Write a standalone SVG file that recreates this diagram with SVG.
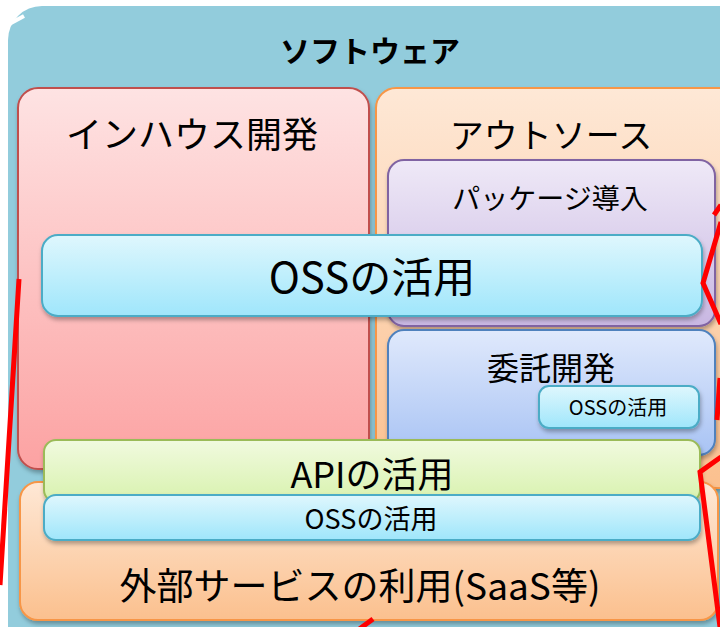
<svg xmlns="http://www.w3.org/2000/svg" width="720" height="627" viewBox="0 0 720 627">
<defs>
<style>
text{font-family:"Noto Sans CJK JP","Noto Sans",sans-serif;fill:#000;text-anchor:middle}
.box{stroke-width:2;filter:url(#sh)}
.red{stroke:#FF0000;stroke-width:5;fill:none;stroke-linejoin:miter}
</style>
<filter id="sh" x="-10%" y="-10%" width="120%" height="130%">
<feDropShadow dx="1" dy="3" stdDeviation="2" flood-color="#000" flood-opacity="0.3"/>
</filter>
<linearGradient id="gPink" x1="0" y1="0" x2="0" y2="1"><stop offset="0" stop-color="#FEE3E3"/><stop offset="1" stop-color="#FCA2A2"/></linearGradient>
<linearGradient id="gOrange" x1="0" y1="0" x2="0" y2="1"><stop offset="0" stop-color="#FEE8D6"/><stop offset="1" stop-color="#FBC08E"/></linearGradient>
<linearGradient id="gPurple" x1="0" y1="0" x2="0" y2="1"><stop offset="0" stop-color="#EFE9F7"/><stop offset="1" stop-color="#C8B7E2"/></linearGradient>
<linearGradient id="gBlue" x1="0" y1="0" x2="0" y2="1"><stop offset="0" stop-color="#E0E9FC"/><stop offset="1" stop-color="#A8C3F4"/></linearGradient>
<linearGradient id="gCyan" x1="0" y1="0" x2="0" y2="1"><stop offset="0" stop-color="#DFF7FD"/><stop offset="1" stop-color="#9FE6FB"/></linearGradient>
<linearGradient id="gGreen" x1="0" y1="0" x2="0" y2="1"><stop offset="0" stop-color="#F1FADF"/><stop offset="1" stop-color="#D8F2AE"/></linearGradient>
</defs>
<rect width="720" height="627" fill="#FFFFFF"/>
<g id="software">
<rect x="8" y="6" width="760" height="660" rx="34" fill="#92CCDC"/>
<text x="370" y="62" font-size="30" font-weight="bold">ソフトウェア</text>
</g>
<line x1="-2" y1="30" x2="24" y2="16" stroke="#FFFFFF" stroke-width="4"/>
<g id="inhouse">
<rect class="box" x="18" y="88" width="351" height="381" rx="20" fill="url(#gPink)" stroke="#C0504D"/>
<text x="192" y="148" font-size="36">インハウス開発</text>
</g>
<g id="outsource">
<rect class="box" x="376" y="88" width="370" height="400" rx="20" fill="url(#gOrange)" stroke="#F79646"/>
<text x="551" y="148" font-size="34">アウトソース</text>
</g>
<g id="package">
<rect class="box" x="388" y="160" width="327" height="166" rx="16" fill="url(#gPurple)" stroke="#8064A2"/>
<text x="550" y="209" font-size="28">パッケージ導入</text>
</g>
<g id="itaku">
<rect class="box" x="388" y="330" width="327" height="125" rx="16" fill="url(#gBlue)" stroke="#4F81BD"/>
<text x="551" y="380" font-size="32">委託開発</text>
</g>
<g id="oss-small">
<rect class="box" x="539" y="386" width="160" height="42" rx="10" fill="url(#gCyan)" stroke="#4BACC6"/>
<text x="618" y="415" font-size="20">OSSの活用</text>
</g>
<g id="oss-main">
<rect class="box" x="42" y="235" width="660" height="81" rx="16" fill="url(#gCyan)" stroke="#4BACC6"/>
<text x="372" y="293" font-size="42">OSSの活用</text>
</g>
<g id="saas">
<rect class="box" x="20" y="482" width="698" height="138" rx="18" fill="url(#gOrange)" stroke="#F79646"/>
<text x="360" y="600" font-size="37">外部サービスの利用(SaaS等)</text>
</g>
<g id="api">
<rect class="box" x="44" y="440" width="656" height="62" rx="12" fill="url(#gGreen)" stroke="#9BBB59"/>
<text x="372" y="488" font-size="36">APIの活用</text>
</g>
<g id="oss-bar">
<rect class="box" x="44" y="495" width="656" height="45" rx="12" fill="url(#gCyan)" stroke="#4BACC6"/>
<text x="371" y="529" font-size="27">OSSの活用</text>
</g>
<g id="connectors">
<line class="red" x1="19" y1="279" x2="0" y2="585"/>
<line class="red" x1="714" y1="215" x2="721" y2="205"/>
<polyline class="red" points="721,222 703,283 721,324"/>
<line class="red" x1="720" y1="378" x2="717" y2="420"/>
<polyline class="red" points="721,457 700,472 720,627"/>
<line class="red" x1="373" y1="619" x2="358" y2="630"/>
</g>
</svg>
